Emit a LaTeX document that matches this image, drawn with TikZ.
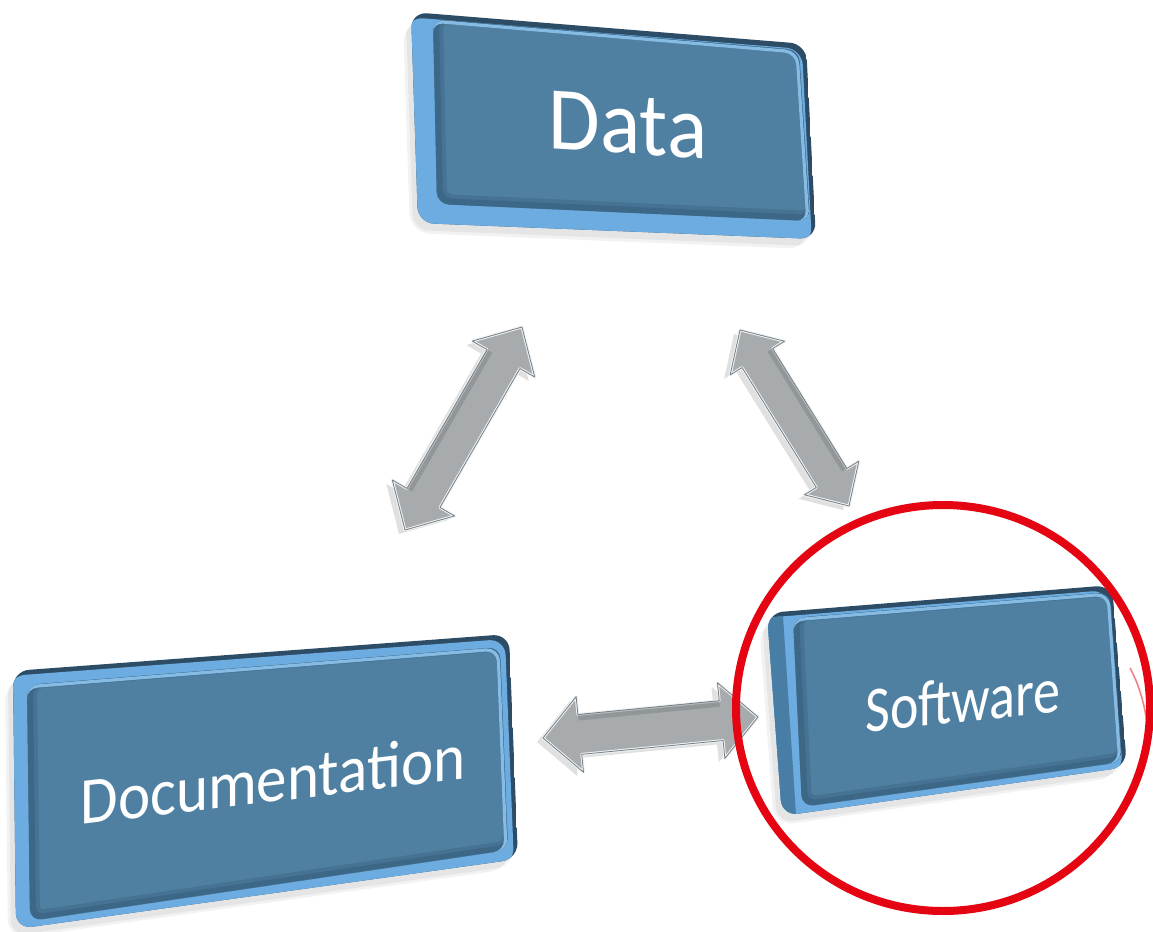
\documentclass[tikz,border=0pt]{standalone}
\usepackage{fontspec}
\setmainfont{Carlito}
\usetikzlibrary{calc}

\definecolor{boxface}{RGB}{80,128,161}
\definecolor{rimdark}{RGB}{45,77,102}
\definecolor{rimlight}{RGB}{108,172,224}
\definecolor{rimmid}{RGB}{72,125,166}
\definecolor{facedark}{RGB}{58,99,131}
\definecolor{facelight}{RGB}{134,188,228}
\definecolor{arrowgray}{RGB}{167,171,174}
\definecolor{arrowedge}{RGB}{120,125,128}
\definecolor{arrowhi}{RGB}{236,242,245}
\definecolor{ringred}{RGB}{228,4,18}

\tikzset{
  boxtext/.style={text=white, inner sep=0pt},
  boxshadow/.style={fill=black, opacity=0.05},
  arrowshade/.style={fill=black, opacity=0.12},
  arrowbody/.style={fill=arrowgray, draw=arrowhi, line width=1.4pt, line join=round},
  arrowrim/.style={draw=arrowedge, line width=0.4pt, line join=round},
  arrowband/.style={draw=arrowedge, line width=6pt, opacity=0.45},
  ring/.style={draw=ringred, line width=4pt},
}

% 3-D key-like slab: outer corners #1..#4, face corners #5..#8, extra side paint #9
\newcommand\bevelbox[9]{%
  \fill[boxshadow, rounded corners=10pt, shift={(-8,10)}] #1 -- #2 -- #3 -- #4 -- cycle;
  \fill[boxshadow, rounded corners=8pt, shift={(-5,7)}] #1 -- #2 -- #3 -- #4 -- cycle;
  \begin{scope}
    \clip[rounded corners=8pt] #1 -- #2 -- #3 -- #4 -- cycle;
    \fill[rimdark] #1 -- #2 -- #3 -- #4 -- cycle;
    \fill[rimlight, rounded corners=8pt, shift={(-4,5)}] #1 -- #2 -- #3 -- #4 -- cycle;
    #9
  \end{scope}
  \begin{scope}
    \clip[rounded corners=6pt] #5 -- #6 -- #7 -- #8 -- cycle;
    \fill[boxface] #5 -- #6 -- #7 -- #8 -- cycle;
    \draw[facedark, opacity=0.45, line width=7pt, rounded corners=6pt, shift={(3,-3)}] #5 -- #6 -- #7 -- #8 -- cycle;
    \draw[facedark, opacity=0.7, line width=4pt, rounded corners=6pt, shift={(2,-2)}] #5 -- #6 -- #7 -- #8 -- cycle;
    \draw[facelight, line width=1.6pt, rounded corners=6pt, shift={(-2,2)}] #5 -- #6 -- #7 -- #8 -- cycle;
  \end{scope}
}

% double-headed block arrow between two named tips
% #1,#2 tips, #3 head length, #4 half shaft width, #5 half head width, #6 prefix,
% #7,#8 the shaft edge that carries the shaded band
\newcommand\dblarrow[8]{%
  \coordinate (#6q1) at ($(#1)!#3!(#2)$);
  \coordinate (#6q2) at ($(#2)!#3!(#1)$);
  \coordinate (#6a) at ($(#6q1)!#5!90:(#2)$);
  \coordinate (#6b) at ($(#6q1)!#4!90:(#2)$);
  \coordinate (#6c) at ($(#6q2)!#4!-90:(#1)$);
  \coordinate (#6d) at ($(#6q2)!#5!-90:(#1)$);
  \coordinate (#6e) at ($(#6q2)!#5!90:(#1)$);
  \coordinate (#6f) at ($(#6q2)!#4!90:(#1)$);
  \coordinate (#6g) at ($(#6q1)!#4!-90:(#2)$);
  \coordinate (#6h) at ($(#6q1)!#5!-90:(#2)$);
  \fill[arrowshade, transform canvas={shift={(-3pt,-2pt)}}]
    (#1) -- (#6a) -- (#6b) -- (#6c) -- (#6d) -- (#2) -- (#6e) -- (#6f) -- (#6g) -- (#6h) -- cycle;
  \filldraw[arrowbody]
    (#1) -- (#6a) -- (#6b) -- (#6c) -- (#6d) -- (#2) -- (#6e) -- (#6f) -- (#6g) -- (#6h) -- cycle;
  \begin{scope}
    \clip (#1) -- (#6a) -- (#6b) -- (#6c) -- (#6d) -- (#2) -- (#6e) -- (#6f) -- (#6g) -- (#6h) -- cycle;
    \draw[arrowband] (#6#7) -- (#6#8);
  \end{scope}
  \draw[arrowrim]
    (#1) -- (#6a) -- (#6b) -- (#6c) -- (#6d) -- (#2) -- (#6e) -- (#6f) -- (#6g) -- (#6h) -- cycle;
}

\begin{document}
\begin{tikzpicture}[x=0.5pt, y=-0.5pt]
  \fill[white] (0,0) rectangle (1153,932);
  \useasboundingbox (0,0) rectangle (1153,932);

  % Data key
  \bevelbox{(411,12)}{(806,44)}{(816,239)}{(418,223)}
           {(433,19)}{(799,50)}{(810,221)}{(437,204)}{}
  \node[boxtext, font=\fontsize{42}{50}\selectfont, yslant=-0.065] (data) at (628,125) {\scalebox{1}[1.07]{Data}};

  % Documentation key
  \bevelbox{(13,671)}{(509,634)}{(518,859)}{(16,929)}
           {(27,685)}{(500,647)}{(508,850)}{(30,921)}{}
  \node[boxtext, font=\fontsize{30.5}{36}\selectfont, yslant=0.12] (doc) at (273,779) {\scalebox{1}[1.09]{Documentation}};

  % Software key, side face visible on the left
  \bevelbox{(767,613)}{(1112,585)}{(1127,767)}{(782,816)}
           {(793,618)}{(1110,592)}{(1122,762)}{(802,807)}
           {\fill[rimmid] (755,619) -- (783,616) -- (797,830) -- (760,830) -- cycle;}
  \node[boxtext, font=\fontsize{27}{32}\selectfont, yslant=0.103] (soft) at (963,700) {\scalebox{1}[1.2]{Software}};

  % arrow tips
  \coordinate (dd1) at (522,327);
  \coordinate (dd2) at (405,530);
  \coordinate (ds1) at (740,330);
  \coordinate (ds2) at (849,506);
  \coordinate (sd1) at (543,738);
  \coordinate (sd2) at (758,717);

  \dblarrow{dd1}{dd2}{18.5pt}{9.5pt}{18pt}{ldiag}{g}{f}
  \dblarrow{ds1}{ds2}{16.5pt}{9pt}{16pt}{rdiag}{b}{c}
  \dblarrow{sd1}{sd2}{18.5pt}{10pt}{19pt}{horiz}{b}{c}

  % hand-drawn ring around Software
  \draw[ring] (943,708) ellipse [x radius=207, y radius=203];
  \draw[draw=ringred, line width=0.8pt, opacity=0.5] (1130,668) .. controls (1142,690) and (1147,715) .. (1149,742);
\end{tikzpicture}
\end{document}
